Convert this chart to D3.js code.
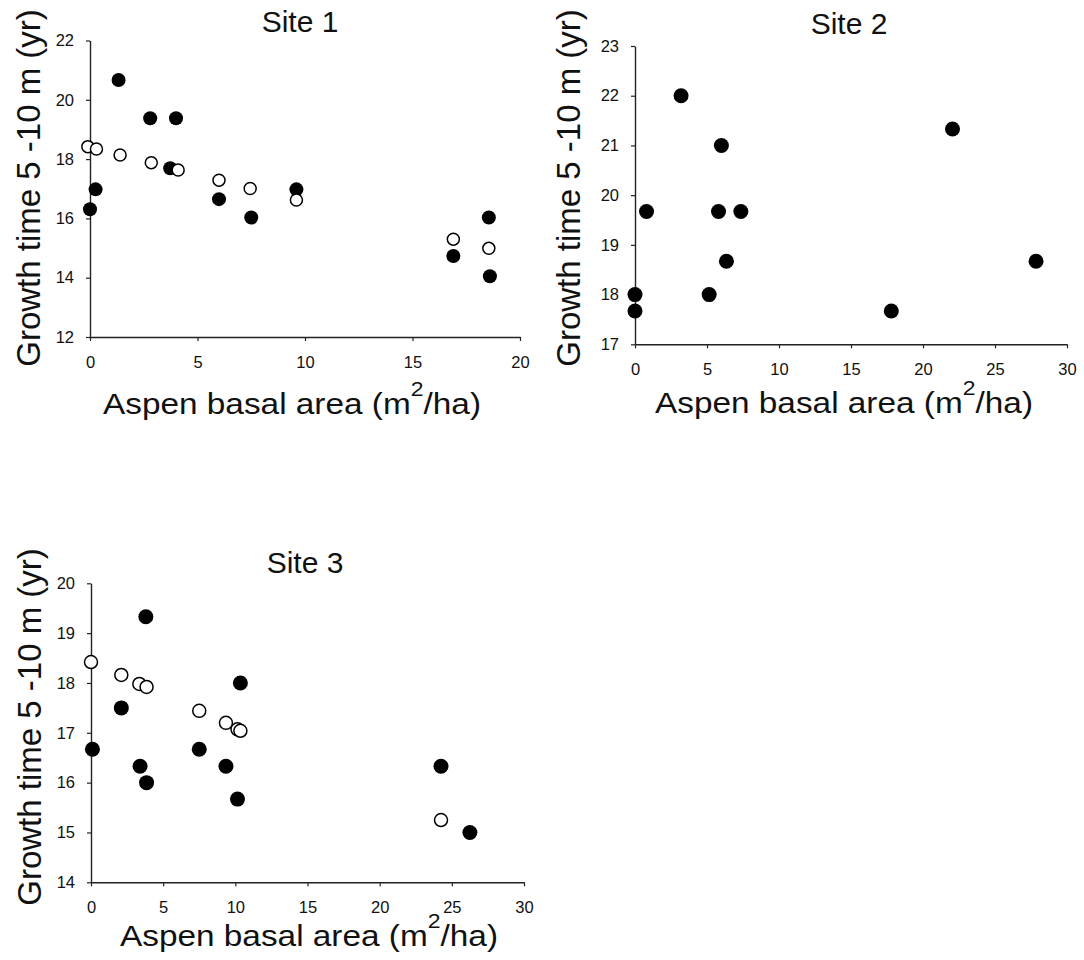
<!DOCTYPE html>
<html>
<head>
<meta charset="utf-8">
<script src="https://cdn.jsdelivr.net/npm/d3@7"></script>
<style>
  body { margin: 0; background: #fff; }
  svg text { font-family: "Liberation Sans", Arial, Helvetica, sans-serif; fill: #111; }
</style>
</head>
<body>
<svg id="fig" width="1084" height="960"></svg>
<script>
// Growth time from 5 to 10 m height vs aspen basal area, three sites.
// Filled circles and open circles are the two measured series per site.

const siteNames = ["Site 1", "Site 2", "Site 3"];

// Site 1
const site1FilledX = [1.33, 2.8, 4.0, 3.73, 0.26, 0.0, 6.0, 7.5, 9.6, 16.9, 18.55, 18.6];
const site1FilledY = [20.67, 19.38, 19.38, 17.69, 16.98, 16.31, 16.65, 16.03, 16.98, 14.73, 16.03, 14.05];
const site1OpenX = [-0.1, 0.3, 1.4, 2.85, 4.1, 6.0, 7.45, 9.6, 16.9, 18.55];
const site1OpenY = [18.42, 18.34, 18.14, 17.88, 17.63, 17.29, 17.01, 16.62, 15.3, 14.99];
const site1XTicks = [0, 5, 10, 15, 20];
const site1YTicks = [12, 14, 16, 18, 20, 22];

// Site 2
const site2FilledX = [3.2, 6.0, 0.8, 5.8, 7.35, 6.35, 5.15, 0.0, 0.0, 22.05, 27.85, 17.8];
const site2FilledY = [22.0, 21.0, 19.67, 19.67, 19.67, 18.67, 18.0, 18.0, 17.67, 21.33, 18.67, 17.67];
const site2OpenX = [];
const site2OpenY = [];
const site2XTicks = [0, 5, 10, 15, 20, 25, 30];
const site2YTicks = [17, 18, 19, 20, 21, 22, 23];

// Site 3
const site3FilledX = [3.8, 2.1, 10.35, 0.1, 7.5, 3.4, 3.85, 9.35, 10.15, 24.25, 26.25];
const site3FilledY = [19.33, 17.5, 18.0, 16.67, 16.67, 16.33, 16.0, 16.33, 15.67, 16.33, 15.0];
const site3OpenX = [0.0, 2.1, 3.35, 3.85, 7.5, 9.35, 10.15, 10.35, 24.25];
const site3OpenY = [18.42, 18.16, 17.98, 17.92, 17.44, 17.2, 17.07, 17.04, 15.25];
const site3XTicks = [0, 5, 10, 15, 20, 25, 30];
const site3YTicks = [14, 15, 16, 17, 18, 19, 20];

const xTitle = "Aspen basal area (m";
const xTitleSup = "2";
const xTitleEnd = "/ha)";
const yTitle = "Growth time 5 -10 m (yr)";

// Panel layout (pixel frames of each plotting area)
const panels = [
  { name: siteNames[0], fx: site1FilledX, fy: site1FilledY, ox: site1OpenX, oy: site1OpenY,
    xd: [0, 20], yd: [12, 22], xt: site1XTicks, yt: site1YTicks,
    x0: 90, x1: 520, y0: 337, y1: 40.5, titleX: 300, titleY: 32,
    xtX: 103, xtY: 414, ytX: 40, ytY: 188, r: 7 },
  { name: siteNames[1], fx: site2FilledX, fy: site2FilledY, ox: site2OpenX, oy: site2OpenY,
    xd: [0, 30], yd: [17, 23], xt: site2XTicks, yt: site2YTicks,
    x0: 635, x1: 1067, y0: 344.3, y1: 46, titleX: 849, titleY: 34,
    xtX: 655, xtY: 413, ytX: 580, ytY: 188, r: 7.5 },
  { name: siteNames[2], fx: site3FilledX, fy: site3FilledY, ox: site3OpenX, oy: site3OpenY,
    xd: [0, 30], yd: [14, 20], xt: site3XTicks, yt: site3YTicks,
    x0: 91, x1: 524, y0: 882.3, y1: 583.3, titleX: 305, titleY: 573,
    xtX: 120, xtY: 946, ytX: 41, ytY: 727, r: 7.5 }
];

const svg = d3.select("#fig");

panels.forEach(p => {
  const g = svg.append("g");
  const x = d3.scaleLinear().domain(p.xd).range([p.x0, p.x1]);
  const y = d3.scaleLinear().domain(p.yd).range([p.y0, p.y1]);

  // Axes
  const xAxis = d3.axisBottom(x).tickValues(p.xt).tickSize(4).tickSizeOuter(0).tickPadding(15)
    .tickFormat(d3.format("d"));
  const yAxis = d3.axisLeft(y).tickValues(p.yt).tickSize(4).tickSizeOuter(0).tickPadding(12)
    .tickFormat(d3.format("d"));

  const gx = g.append("g").attr("transform", `translate(0,${p.y0})`).call(xAxis);
  const gy = g.append("g").attr("transform", `translate(${p.x0},0)`).call(yAxis);
  [gx, gy].forEach(a => {
    a.selectAll(".domain").attr("stroke", "#222").attr("stroke-width", 1.4);
    a.selectAll(".tick line").attr("stroke", "#222").attr("stroke-width", 1.2);
    a.selectAll(".tick text").attr("font-size", 16.5).attr("fill", "#111")
      .attr("font-family", "Liberation Sans, Arial, sans-serif");
  });

  // Title
  g.append("text").attr("x", p.titleX).attr("y", p.titleY)
    .attr("text-anchor", "middle").attr("font-size", 30).text(p.name);

  // X axis title with superscript (glyphs slightly widened)
  const xt = g.append("text")
    .attr("transform", `translate(${p.xtX},${p.xtY}) scale(1.15,1)`)
    .attr("font-size", 29);
  xt.append("tspan").text(xTitle);
  xt.append("tspan").attr("dy", -18).attr("font-size", 20).text(xTitleSup);
  xt.append("tspan").attr("dy", 18).text(xTitleEnd);

  // Y axis title
  g.append("text")
    .attr("transform", `translate(${p.ytX},${p.ytY}) rotate(-90)`)
    .attr("text-anchor", "middle").attr("font-size", 33).text(yTitle);

  // Filled points
  g.append("g").selectAll("circle").data(d3.zip(p.fx, p.fy)).join("circle")
    .attr("cx", d => x(d[0])).attr("cy", d => y(d[1])).attr("r", p.r)
    .attr("fill", "#000");

  // Open points
  g.append("g").selectAll("circle").data(d3.zip(p.ox, p.oy)).join("circle")
    .attr("cx", d => x(d[0])).attr("cy", d => y(d[1])).attr("r", p.r - 1)
    .attr("fill", "#fff").attr("stroke", "#000").attr("stroke-width", 1.5);
});
</script>
</body>
</html>
